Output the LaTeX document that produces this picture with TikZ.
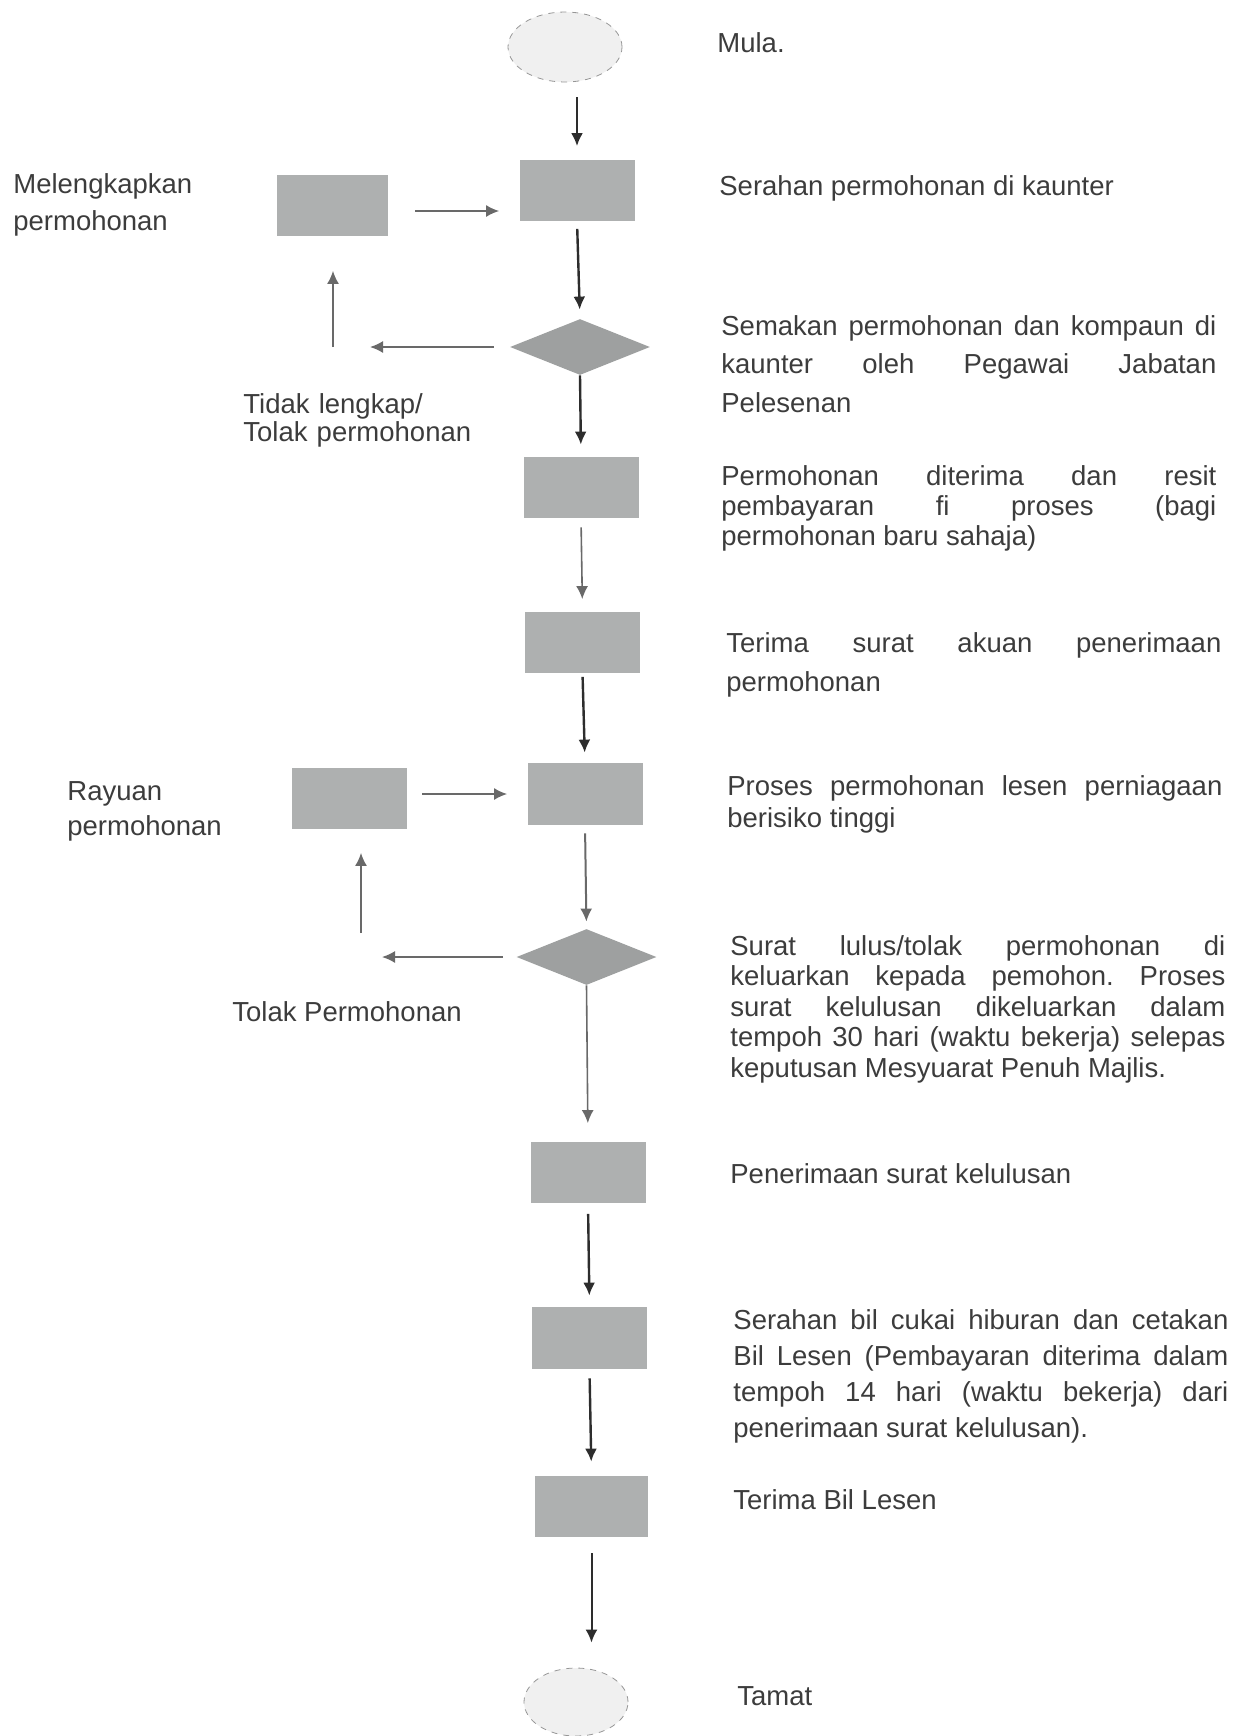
\documentclass[tikz,border=0pt]{standalone}
\usepackage{fontspec}
\setmainfont{Liberation Sans}
\usetikzlibrary{shapes.geometric,arrows.meta}

\begin{document}
\begin{tikzpicture}[x=0.5pt,y=0.5pt,yscale=-1,xscale=1,
  box/.style={draw=none, fill={rgb, 255:red, 174; green, 176; blue, 176 }, minimum width=57.5pt, minimum height=30.5pt, inner sep=0pt},
  dec/.style={diamond, draw=none, fill={rgb, 255:red, 158; green, 160; blue, 160 }, minimum width=70pt, minimum height=28pt, inner sep=0pt},
  term/.style={ellipse, draw={rgb, 255:red, 150; green, 150; blue, 150 }, dashed, fill={rgb, 255:red, 240; green, 240; blue, 240 }, minimum width=#1, minimum height=35pt, inner sep=0pt},
  arr/.style={-{Latex[length=6.5pt,width=6pt]}, line width=1.2pt, color={rgb, 255:red, 45; green, 45; blue, 45 }},
  arrg/.style={arr, line width=0.8pt, color={rgb, 255:red, 105; green, 105; blue, 105 }},
  txt/.style={anchor=base west, inner sep=0pt, text={rgb, 255:red, 60; green, 60; blue, 60 }, font=\fontsize{13.75pt}{#1}\selectfont\frenchspacing},
  txt/.default=17pt,
  desc/.style={txt=#1, text width=247.5pt, align=justify},
  desc/.default=17pt,
  side/.style={txt=#1, text width=150pt, align=left},
  side/.default=17pt]

\useasboundingbox (0,0) rectangle (1247,1736);

%Shape: Ellipse
\node [term=57pt] (start) at (565,47) {};
%Shape: Rectangle
\node [box] (b1) at (577,190) {};
\node [box, minimum width=55.5pt] (lb1) at (332.5,205) {};
%Shape: Diamond
\node [dec] (d1) at (580,347) {};
%Shape: Rectangle
\node [box] (b2) at (581,487.5) {};
\node [box] (b3) at (582.5,642) {};
\node [box, minimum height=31pt] (b4) at (585,794) {};
\node [box] (lb2) at (349.5,798) {};
%Shape: Diamond
\node [dec] (d2) at (586.5,957) {};
%Shape: Rectangle
\node [box] (b5) at (588,1172) {};
\node [box, minimum height=31pt] (b6) at (589.5,1338) {};
\node [box, minimum width=56.5pt] (b7) at (591.5,1506.5) {};
%Shape: Ellipse
\node [term=52pt, minimum height=34pt] (end) at (576,1702) {};

\coordinate (t1) at (333,347);
\coordinate (t2) at (361,957);

%Straight Lines
\draw [arr, shorten <=7.5pt, shorten >=6.5pt] (start.south -| b1) -- (b1.north);
\draw [arr, shorten <=4pt, shorten >=4.5pt] (b1.south) -- (d1.north);
\draw [arr, shorten >=6pt] (d1.south) -- (b2.north);
\draw [arrg, shorten <=4.5pt, shorten >=6pt] (b2.south) -- (b3.north);
\draw [arr, shorten <=2pt, shorten >=5pt] (b3.south) -- (b4.north);
\draw [arrg, line width=1pt, shorten <=4pt, shorten >=3.5pt] (b4.south) -- (d2.north);
\draw [arrg, shorten >=9pt] (d2.south) -- (b5.north);
\draw [arr, shorten <=5.5pt, shorten >=5.5pt] (b5.south) -- (b6.north);
\draw [arr, shorten <=4.5pt, shorten >=7pt] (b6.south) -- (b7.north);
\draw [arr, line width=1pt, shorten <=8pt, shorten >=12.5pt] (b7.south) -- (b7.south |- end.north);
% loop (i)
\draw [arrg, shorten <=13.5pt, shorten >=10pt] ([yshift=3pt]lb1.east) -- ([yshift=3pt]lb1.east -| b1.west);
\draw [arrg, shorten <=8pt, shorten >=18.5pt] (d1.west) -- (t1);
\draw [arrg, shorten >=17.5pt] (t1) -- (t1 |- lb1.south);
% loop (ii)
\draw [arrg, shorten <=7.5pt, shorten >=10pt] (lb2.east |- b4.west) -- (b4.west);
\draw [arrg, shorten <=6.5pt, shorten >=10.5pt] (d2.west) -- (t2);
\draw [arrg, shorten <=12pt, shorten >=12pt] (t2) -- (t2 |- lb2.south);

% Text Node
\node [txt] (tmula) at (717,52) {Mula.};
% Text Node
\node [txt] (tb1) at (719,195) {Serahan permohonan di kaunter};
% Text Node
\node [desc=19.25pt] (td1) at (721,335) {Semakan permohonan dan kompaun di\linebreak kaunter oleh Pegawai Jabatan\linebreak Pelesenan};
% Text Node
\node [desc=15pt] (tb2) at (721,485) {Permohonan diterima dan resit\linebreak pembayaran fi proses (bagi\linebreak permohonan baru sahaja)};
% Text Node
\node [desc=19.75pt] (tb3) at (726,652) {Terima surat akuan penerimaan\linebreak permohonan};
% Text Node
\node [desc=16pt] (tb4) at (727,795) {Proses permohonan lesen perniagaan\linebreak berisiko tinggi};
% Text Node
\node [desc=15.25pt] (td2) at (730,955) {Surat lulus/tolak permohonan di\linebreak keluarkan kepada pemohon. Proses\linebreak surat kelulusan dikeluarkan dalam\linebreak tempoh 30 hari (waktu bekerja) selepas\linebreak keputusan Mesyuarat Penuh Majlis.};
% Text Node
\node [txt] (tb5) at (730,1183) {Penerimaan surat kelulusan};
% Text Node
\node [desc=18pt] (tb6) at (733,1329) {Serahan bil cukai hiburan dan cetakan\linebreak Bil Lesen (Pembayaran diterima dalam\linebreak tempoh 14 hari (waktu bekerja) dari\linebreak penerimaan surat kelulusan).};
% Text Node
\node [txt] (tb7) at (733,1509) {Terima Bil Lesen};
% Text Node
\node [txt] (tend) at (737,1705) {Tamat};
% Text Node
\node [side=18.5pt] (tlb1) at (13,193) {Melengkapkan\\permohonan};
% Text Node
\node [side=14pt] (tt1) at (243,413) {Tidak lengkap/\\Tolak permohonan};
% Text Node
\node [side=17.5pt] (tlb2) at (67,800) {Rayuan\\permohonan};
% Text Node
\node [txt] (tt2) at (232,1021) {Tolak Permohonan};
\end{tikzpicture}
\end{document}
